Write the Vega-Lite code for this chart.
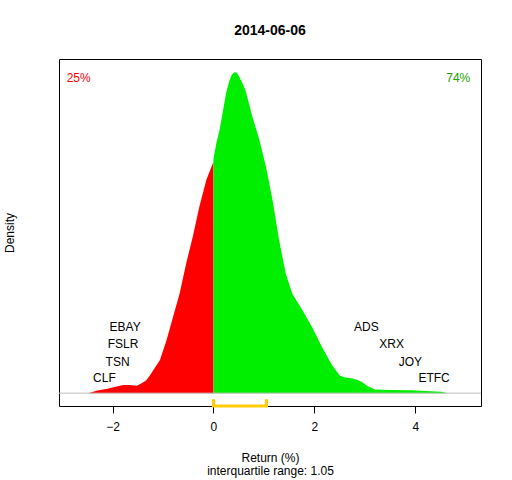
{
  "$schema": "https://vega.github.io/schema/vega-lite/v6.json",
  "description": "Density of returns on 2014-06-06, split at zero, with interquartile range bracket.",
  "width": 422,
  "height": 347,
  "autosize": {"type": "none"},
  "padding": {"left": 59, "top": 59, "right": 31, "bottom": 74},
  "title": {
    "text": "2014-06-06",
    "fontSize": 14,
    "fontWeight": "bold",
    "font": "Liberation Sans",
    "color": "black",
    "anchor": "middle",
    "frame": "group",
    "offset": 21
  },
  "datasets": {
    "density": [
      {"ret": -2.48, "dens": 0, "side": "down"},
      {"ret": -2.3, "dens": 0.008, "side": "down"},
      {"ret": -2.1, "dens": 0.014, "side": "down"},
      {"ret": -1.98, "dens": 0.018, "side": "down"},
      {"ret": -1.79, "dens": 0.025, "side": "down"},
      {"ret": -1.65, "dens": 0.025, "side": "down"},
      {"ret": -1.52, "dens": 0.023, "side": "down"},
      {"ret": -1.43, "dens": 0.03, "side": "down"},
      {"ret": -1.33, "dens": 0.04, "side": "down"},
      {"ret": -1.26, "dens": 0.055, "side": "down"},
      {"ret": -1.19, "dens": 0.072, "side": "down"},
      {"ret": -1.06, "dens": 0.103, "side": "down"},
      {"ret": -0.93, "dens": 0.165, "side": "down"},
      {"ret": -0.8, "dens": 0.238, "side": "down"},
      {"ret": -0.67, "dens": 0.31, "side": "down"},
      {"ret": -0.54, "dens": 0.404, "side": "down"},
      {"ret": -0.41, "dens": 0.487, "side": "down"},
      {"ret": -0.28, "dens": 0.58, "side": "down"},
      {"ret": -0.14, "dens": 0.664, "side": "down"},
      {"ret": 0, "dens": 0.72, "side": "down"},
      {"ret": 0, "dens": 0.73, "side": "up"},
      {"ret": 0.06, "dens": 0.78, "side": "up"},
      {"ret": 0.12, "dens": 0.819, "side": "up"},
      {"ret": 0.18, "dens": 0.871, "side": "up"},
      {"ret": 0.25, "dens": 0.934, "side": "up"},
      {"ret": 0.31, "dens": 0.97, "side": "up"},
      {"ret": 0.36, "dens": 0.99, "side": "up"},
      {"ret": 0.41, "dens": 0.999, "side": "up"},
      {"ret": 0.46, "dens": 0.998, "side": "up"},
      {"ret": 0.51, "dens": 0.985, "side": "up"},
      {"ret": 0.58, "dens": 0.963, "side": "up"},
      {"ret": 0.64, "dens": 0.94, "side": "up"},
      {"ret": 0.77, "dens": 0.861, "side": "up"},
      {"ret": 0.91, "dens": 0.788, "side": "up"},
      {"ret": 1.04, "dens": 0.705, "side": "up"},
      {"ret": 1.17, "dens": 0.601, "side": "up"},
      {"ret": 1.3, "dens": 0.477, "side": "up"},
      {"ret": 1.43, "dens": 0.373, "side": "up"},
      {"ret": 1.56, "dens": 0.31, "side": "up"},
      {"ret": 1.76, "dens": 0.259, "side": "up"},
      {"ret": 1.95, "dens": 0.207, "side": "up"},
      {"ret": 2.15, "dens": 0.144, "side": "up"},
      {"ret": 2.35, "dens": 0.087, "side": "up"},
      {"ret": 2.5, "dens": 0.055, "side": "up"},
      {"ret": 2.61, "dens": 0.049, "side": "up"},
      {"ret": 2.74, "dens": 0.046, "side": "up"},
      {"ret": 2.87, "dens": 0.04, "side": "up"},
      {"ret": 2.94, "dens": 0.035, "side": "up"},
      {"ret": 3.05, "dens": 0.022, "side": "up"},
      {"ret": 3.2, "dens": 0.011, "side": "up"},
      {"ret": 3.5, "dens": 0.01, "side": "up"},
      {"ret": 3.92, "dens": 0.009, "side": "up"},
      {"ret": 4.2, "dens": 0.007, "side": "up"},
      {"ret": 4.51, "dens": 0.004, "side": "up"},
      {"ret": 4.65, "dens": 0, "side": "up"}
    ],
    "iqr": [
      {"ret": 0, "dens": -0.019, "step": 1},
      {"ret": 0, "dens": -0.04, "step": 2},
      {"ret": 1.05, "dens": -0.04, "step": 3},
      {"ret": 1.05, "dens": -0.019, "step": 4}
    ],
    "tickers": [
      {"ret": -1.75, "dens": 0.205, "name": "EBAY"},
      {"ret": -1.79, "dens": 0.152, "name": "FSLR"},
      {"ret": -1.9, "dens": 0.098, "name": "TSN"},
      {"ret": -2.16, "dens": 0.047, "name": "CLF"},
      {"ret": 3.03, "dens": 0.205, "name": "ADS"},
      {"ret": 3.53, "dens": 0.152, "name": "XRX"},
      {"ret": 3.9, "dens": 0.098, "name": "JOY"},
      {"ret": 4.37, "dens": 0.047, "name": "ETFC"}
    ],
    "shares": [
      {"ret": -2.67, "dens": 0.982, "label": "25%", "side": "down"},
      {"ret": 4.85, "dens": 0.982, "label": "74%", "side": "up"}
    ]
  },
  "encoding": {
    "x": {
      "field": "ret",
      "type": "quantitative",
      "scale": {"domain": [-3.06, 5.3], "nice": false, "zero": false},
      "axis": {
        "values": [-2, 0, 2, 4],
        "domain": false,
        "grid": false,
        "tickColor": "black",
        "tickSize": 7,
        "labelFontSize": 12,
        "labelPadding": 8,
        "labelColor": "black",
        "title": ["Return (%)", "interquartile range: 1.05"],
        "titleFontSize": 12,
        "titleFontWeight": "normal",
        "titleColor": "black",
        "titleLineHeight": 13,
        "titlePadding": 20
      }
    },
    "y": {
      "field": "dens",
      "type": "quantitative",
      "scale": {"domain": [-0.04, 1.04], "nice": false, "zero": false},
      "axis": {
        "labels": false,
        "ticks": false,
        "domain": false,
        "grid": false,
        "title": "Density",
        "titleFontSize": 12,
        "titleFontWeight": "normal",
        "titleColor": "black",
        "titlePadding": 43
      }
    }
  },
  "layer": [
    {
      "data": {"name": "density"},
      "mark": {"type": "area", "interpolate": "linear"},
      "encoding": {
        "y": {"field": "dens", "type": "quantitative", "stack": null},
        "y2": {"datum": 0},
        "color": {
          "field": "side",
          "type": "nominal",
          "scale": {"domain": ["down", "up"], "range": ["#FF0000", "#00EE00"]},
          "legend": null
        }
      }
    },
    {
      "data": {"values": [{"dens": 0}]},
      "mark": {"type": "rule", "color": "#BEBEBE", "strokeWidth": 1},
      "encoding": {
        "y": {"field": "dens", "type": "quantitative"},
        "x": null
      }
    },
    {
      "data": {"name": "iqr"},
      "mark": {"type": "line", "color": "#FFCC00", "strokeWidth": 3, "clip": false},
      "encoding": {
        "order": {"field": "step", "type": "quantitative"}
      }
    },
    {
      "data": {"name": "tickers"},
      "mark": {"type": "text", "fontSize": 12, "color": "black", "align": "center", "baseline": "middle"},
      "encoding": {
        "text": {"field": "name"}
      }
    },
    {
      "data": {"name": "shares"},
      "mark": {"type": "text", "fontSize": 12, "align": "center", "baseline": "middle"},
      "encoding": {
        "text": {"field": "label"},
        "color": {
          "field": "side",
          "type": "nominal",
          "scale": {"domain": ["down", "up"], "range": ["#FF0000", "#1E9E00"]},
          "legend": null
        }
      }
    }
  ],
  "resolve": {"scale": {"color": "independent"}},
  "config": {
    "font": "Liberation Sans",
    "view": {"stroke": "black", "strokeWidth": 1},
    "background": "white"
  }
}
